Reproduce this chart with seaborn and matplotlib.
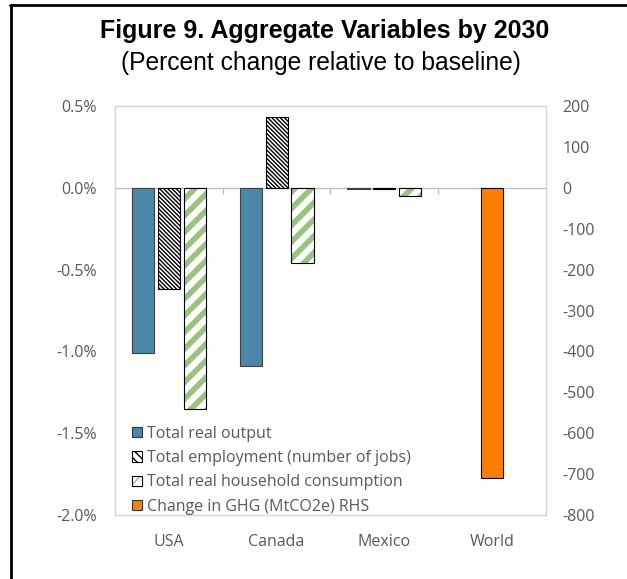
import numpy as np
import pandas as pd
import matplotlib
matplotlib.use('Agg')
import matplotlib.pyplot as plt
import seaborn as sns
from matplotlib.patches import Patch
from matplotlib.lines import Line2D

# Data
regions = ['USA', 'Canada', 'Mexico', 'World']
series = ['Total real output', 'Total employment (number of jobs)',
          'Total real household consumption']
output_pct = [-1.01, -1.09, -0.005]
employment_pct = [-0.62, 0.43, -0.005]
consumption_pct = [-1.35, -0.46, -0.05]
ghg_label = 'Change in GHG (MtCO2e) RHS'
ghg_regions = ['World']
ghg_values = [-710]

left_ticks = [0.5, 0.0, -0.5, -1.0, -1.5, -2.0]
right_ticks = [200, 100, 0, -100, -200, -300, -400, -500, -600, -700, -800]

blue = '#4B87A9'
green = '#96C47E'
orange = '#FF8000'
grey_txt = '#595959'
spine_col = '#D4D4D4'
zero_col = '#BFBFBF'
fs = 11.5

rows = []
for name, vals in zip(series, [output_pct, employment_pct, consumption_pct]):
    for reg, v in zip(regions[:3], vals):
        rows.append({'region': reg, 'series': name, 'value': v})
df = pd.DataFrame(rows)
ghg_df = pd.DataFrame({'region': ghg_regions, 'value': ghg_values})

sns.set_theme(style='white')
plt.rcParams['font.family'] = ['Open Sans', 'DejaVu Sans']

fig = plt.figure(figsize=(6.27, 5.79), dpi=100)
ax = fig.add_axes([0.1834, 0.1105, 0.6874, 0.7064])

sns.barplot(data=df, x='region', y='value', hue='series', order=regions,
            hue_order=series, palette=[blue, 'white', 'white'], width=0.72,
            gap=0.146, saturation=1, errorbar=None, legend=False,
            edgecolor='#404040', linewidth=0.8, ax=ax)

# employment: dense black diagonal hatch
for rect in ax.containers[1]:
    rect.set_edgecolor('black')
    rect.set_hatch('\\' * 8)

# consumption: thick green stripes with black outline
for rect in list(ax.containers[2]):
    rect.set_facecolor('white')
    rect.set_edgecolor(green)
    rect.set_linewidth(0)
    rect.set_hatch('//')
    if hasattr(rect, 'set_hatch_linewidth'):
        rect.set_hatch_linewidth(4)
    w = rect.get_width()
    ax.bar(rect.get_x() + w / 2, rect.get_height(), width=w, bottom=rect.get_y(),
           fill=False, edgecolor='black', linewidth=0.8, zorder=3)

ax.set_ylim(left_ticks[-1], left_ticks[0])
ax.set_yticks(left_ticks, labels=[f'{t:.1f}%' for t in left_ticks])
ax.set_xticks(range(len(regions)), labels=regions)
ax.tick_params(axis='y', length=0, pad=13, labelcolor=grey_txt, labelsize=fs)
ax.tick_params(axis='x', length=0, pad=14, labelcolor=grey_txt, labelsize=fs)
ax.set_xlabel('')
ax.set_ylabel('')
for sp in ax.spines.values():
    sp.set_visible(True)
    sp.set_color(spine_col)
    sp.set_linewidth(1)

# category axis drawn at zero with small ticks between categories
ymin, ymax = ax.get_ylim()
zero_ax = ax.secondary_xaxis((0 - ymin) / (ymax - ymin))
zero_ax.set_xticks(np.arange(len(regions) - 1) + 0.5, labels=[])
zero_ax.tick_params(direction='in', length=4, color=zero_col, width=1)
for sp in zero_ax.spines.values():
    sp.set_color(zero_col)
    sp.set_linewidth(1)

# secondary axis: GHG change
ax2 = ax.twinx()
sns.barplot(data=ghg_df, x='region', y='value', order=regions, color=orange,
            width=0.205, saturation=1, errorbar=None, edgecolor='black',
            linewidth=0.8, ax=ax2)
ax2.set_ylim(right_ticks[-1], right_ticks[0])
ax2.set_yticks(right_ticks, labels=[str(t) for t in right_ticks])
ax2.tick_params(axis='y', length=0, pad=12, labelcolor=grey_txt, labelsize=fs)
ax2.set_ylabel('')
ax2.set_xlabel('')
for sp in ax2.spines.values():
    sp.set_visible(False)

handles = [
    Patch(facecolor=blue, edgecolor='#333333', linewidth=0.8),
    Patch(facecolor='white', edgecolor='black', hatch='\\' * 4, linewidth=0.8),
    (Patch(facecolor='white', edgecolor=green, hatch='//', linewidth=0),
     Patch(facecolor='none', edgecolor='black', linewidth=0.8)),
    Patch(facecolor=orange, edgecolor='#333333', linewidth=0.8),
]
labels = series + [ghg_label]
ax2.legend(handles, labels, loc='upper left', bbox_to_anchor=(0.04, 0.218),
           frameon=False, handlelength=0.62, handleheight=0.62,
           handletextpad=0.3, labelspacing=0.52, fontsize=fs,
           labelcolor=grey_txt, borderaxespad=0, borderpad=0)

fig.text(0.5175, 1 - 31 / 579, 'Figure 9. Aggregate Variables by 2030',
         ha='center', va='center', fontsize=18, weight='bold',
         family='Liberation Sans', color='black')
fig.text(0.5125, 1 - 63 / 579, '(Percent change relative to baseline)',
         ha='center', va='center', fontsize=17.7, family='Liberation Sans',
         color='black')

# outer frame (top and left edges visible in the reference)
fig.add_artist(Line2D([10 / 627, 1], [1 - 5 / 579, 1 - 5 / 579],
                      color='black', linewidth=2, transform=fig.transFigure))
fig.add_artist(Line2D([11 / 627, 11 / 627], [0, 1 - 5 / 579],
                      color='black', linewidth=2, transform=fig.transFigure))

fig.savefig('out.png', dpi=100)
